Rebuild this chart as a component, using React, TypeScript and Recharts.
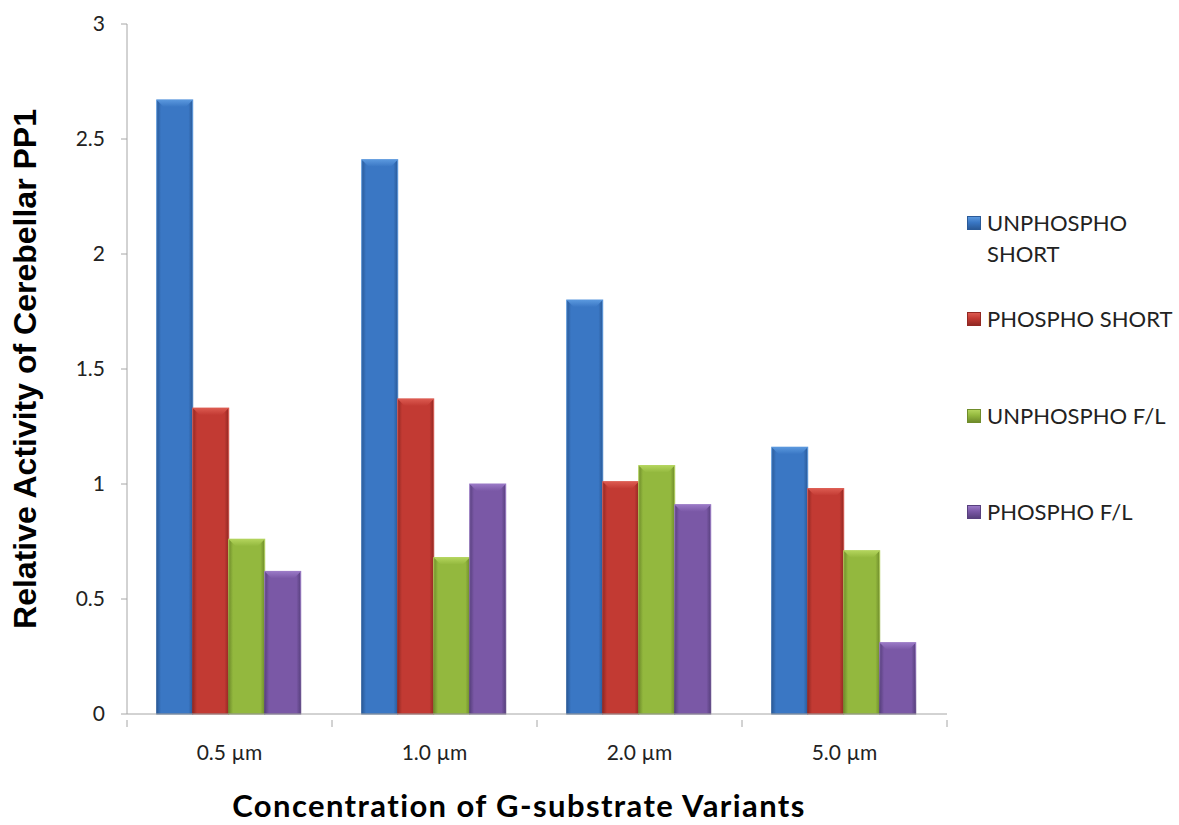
import { BarChart, Bar, XAxis, YAxis, Label } from 'recharts'

const concentrations = ['0.5 µm', '1.0 µm', '2.0 µm', '5.0 µm']
const unphosphoShort = [2.67, 2.41, 1.80, 1.16]
const phosphoShort = [1.33, 1.37, 1.01, 0.98]
const unphosphoFL = [0.76, 0.68, 1.08, 0.71]
const phosphoFL = [0.62, 1.00, 0.91, 0.31]
const yTicks = [0, 0.5, 1, 1.5, 2, 2.5, 3]

const seriesList = [
  { key: 'us', name: 'UNPHOSPHO SHORT', values: unphosphoShort, base: '#3a77c4', light: '#5a98de', dark: '#2a5a98' },
  { key: 'ps', name: 'PHOSPHO SHORT', values: phosphoShort, base: '#c23a33', light: '#dc5a50', dark: '#922823' },
  { key: 'uf', name: 'UNPHOSPHO F/L', values: unphosphoFL, base: '#93b83e', light: '#b3d45c', dark: '#6f8c2b' },
  { key: 'pf', name: 'PHOSPHO F/L', values: phosphoFL, base: '#7a58a6', light: '#9a79c6', dark: '#58407e' },
]

const data = concentrations.map((c, i) => {
  const row: Record<string, string | number> = { name: c }
  seriesList.forEach(s => { row[s.key] = s.values[i] })
  return row
})

const FONT = 'Lato, "Open Sans", sans-serif'

// bevelled bar, like the office 3D column style
function BevelBar(props: any) {
  const { x, y, width, height, skey } = props
  if (!height || height <= 0) return null
  const b = Math.min(7, height / 2)
  return (
    <g>
      <rect x={x} y={y} width={width} height={height} fill={`url(#g-${skey})`} stroke={`url(#e-${skey})`} strokeWidth={1} />
      <polygon
        points={`${x},${y} ${x + width},${y} ${x + width - b},${y + b} ${x + b},${y + b}`}
        fill={`url(#t-${skey})`}
      />
    </g>
  )
}

// category labels plus tick marks on the category boundaries
function XTick(props: any) {
  const { x, y, payload, index, bandSize } = props
  const half = (bandSize ?? 205) / 2
  return (
    <g>
      <line x1={x - half} y1={y} x2={x - half} y2={y + 7} stroke="#a6a6a6" />
      {index === concentrations.length - 1 && (
        <line x1={x + half} y1={y} x2={x + half} y2={y + 7} stroke="#a6a6a6" />
      )}
      <text x={x} y={y + 40} textAnchor="middle" fontSize={21} fill="#222" fontFamily={FONT}>
        {payload.value}
      </text>
    </g>
  )
}

function LegendBox() {
  const tops = [207, 303, 400, 496]
  return (
    <div style={{ position: 'absolute', left: 967, top: 0, width: 212, fontFamily: FONT, fontSize: 22, color: '#222' }}>
      {seriesList.map((s, i) => (
        <div key={s.key} style={{ position: 'absolute', left: 0, top: tops[i], display: 'flex', alignItems: 'flex-start' }}>
          <span
            style={{
              display: 'inline-block',
              flex: 'none',
              width: 12,
              height: 12,
              marginTop: 9,
              marginRight: 6,
              background: `linear-gradient(180deg, ${s.light}, ${s.base} 45%, ${s.dark})`,
              border: `1px solid ${s.dark}`,
            }}
          />
          <span style={{ width: 190, lineHeight: '31px' }}>{s.name}</span>
        </div>
      ))}
    </div>
  )
}

export default function App() {
  return (
    <div style={{ position: 'absolute', left: 0, top: 0, width: 1179, height: 825, background: '#fff' }}>
      <BarChart
        width={1179}
        height={825}
        data={data}
        margin={{ top: 24, right: 232, bottom: 81, left: 0 }}
        barCategoryGap="14.5%"
        barGap={0}
      >
        <defs>
          {seriesList.map(s => (
            <g key={s.key}>
              <linearGradient id={`g-${s.key}`} x1="0" y1="0" x2="1" y2="0">
                <stop offset="0%" stopColor={s.dark} />
                <stop offset="12%" stopColor={s.base} />
                <stop offset="50%" stopColor={s.base} />
                <stop offset="88%" stopColor={s.base} />
                <stop offset="100%" stopColor={s.dark} />
              </linearGradient>
              <linearGradient id={`t-${s.key}`} x1="0" y1="0" x2="0" y2="1">
                <stop offset="0%" stopColor={s.light} />
                <stop offset="100%" stopColor={s.base} />
              </linearGradient>
              <linearGradient id={`e-${s.key}`} x1="0" y1="0" x2="0" y2="1">
                <stop offset="0%" stopColor={s.light} />
                <stop offset="100%" stopColor={s.dark} />
              </linearGradient>
            </g>
          ))}
        </defs>
        <XAxis
          dataKey="name"
          stroke="#a6a6a6"
          tickLine={false}
          tickMargin={0}
          tick={<XTick />}
          interval={0}
        >
          <Label
            value="Concentration of G-substrate Variants"
            position="bottom"
            offset={51}
            dx={-18}
            style={{ fontFamily: FONT, fontSize: 31, fontWeight: 700, letterSpacing: 1.4, fill: '#000' }}
          />
        </XAxis>
        <YAxis
          width={127}
          domain={[0, 3]}
          ticks={yTicks}
          stroke="#a6a6a6"
          tickSize={6}
          tickMargin={16}
          tick={{ fontFamily: FONT, fontSize: 21, fill: '#222' }}
        >
          <Label
            value="Relative Activity of Cerebellar PP1"
            angle={-90}
            position="insideLeft"
            offset={25}
            style={{ textAnchor: 'middle', fontFamily: '"Liberation Sans", Arial, sans-serif', fontSize: 32, fontWeight: 700, fill: '#000' }}
          />
        </YAxis>
        {seriesList.map(s => (
          <Bar
            key={s.key}
            dataKey={s.key}
            name={s.name}
            fill={s.base}
            isAnimationActive={false}
            shape={(p: any) => <BevelBar {...p} skey={s.key} />}
          />
        ))}
      </BarChart>
      <LegendBox />
    </div>
  )
}
